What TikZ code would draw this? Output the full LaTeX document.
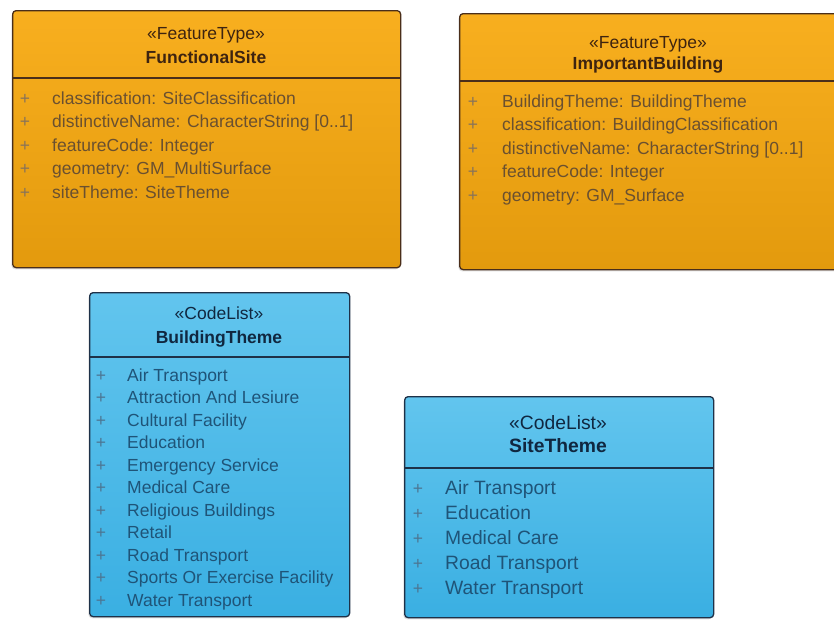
\documentclass[tikz,border=0pt]{standalone}
\usepackage{fontspec}
\setmainfont{Liberation Sans}
\usetikzlibrary{shadows}

\definecolor{ftop}{HTML}{F8AF1F}
\definecolor{fbot}{HTML}{E39A0D}
\definecolor{fline}{HTML}{4A2E1A}
\definecolor{ftext}{HTML}{6A5030}
\definecolor{fhead}{HTML}{3E2410}
\definecolor{ctop}{HTML}{62C5EE}
\definecolor{cbot}{HTML}{3AAFE2}
\definecolor{cline}{HTML}{1E3148}
\definecolor{ctext}{HTML}{1F5478}
\definecolor{chead}{HTML}{102740}

\begin{document}
\begin{tikzpicture}[x=1pt, y=-1pt,
    box/.style={rounded corners=3.5pt, line width=1.3pt, inner sep=0pt, anchor=north west,
        drop shadow={shadow xshift=-1.2pt, shadow yshift=-1.6pt, opacity=0.25}},
    feature/.style={box, draw=fline, top color=ftop, bottom color=fbot},
    codelist/.style={box, draw=cline, top color=ctop, bottom color=cbot},
    head/.style={anchor=base, inner sep=0pt},
    item/.style={anchor=base west, inner sep=0pt},
    plus/.style={anchor=base, inner sep=0pt}]
        % Define Variables
        \def\fs{\fontsize{17.5}{20}\selectfont}
        \def\big{\fontsize{19.3}{22}\selectfont}
        \useasboundingbox (0,0) rectangle (834,619);

        % FunctionalSite
        \node[feature, minimum width=388pt, minimum height=257pt] (fsite) at (12,10) {};
        \coordinate (fsite-sep) at (12,78);
        \draw[fline, line width=1.3pt] (fsite-sep) -- (fsite-sep -| fsite.east);
        \node[head, text=fhead, font=\fs] (fsite-st) at (206,39) {«FeatureType»};
        \node[head, text=fhead, font=\fs\bfseries] (fsite-nm) at (206,63) {FunctionalSite};
        \foreach \txt [count=\i from 0] in {{classification: SiteClassification},
            {distinctiveName: CharacterString [0..1]}, {featureCode: Integer},
            {geometry: GM\_MultiSurface}, {siteTheme: SiteTheme}} {
            \node[plus, text=ftext!80, font=\fs] (fsite-p\i) at (25,104+23.5*\i) {+};
            \node[item, text=ftext, font=\fs] (fsite-a\i) at (52,104+23.5*\i) {\txt};
        }

        % ImportantBuilding
        \node[feature, minimum width=380pt, minimum height=256pt] (ibuild) at (459,13) {};
        \coordinate (ibuild-sep) at (459,81);
        \draw[fline, line width=1.3pt] (ibuild-sep) -- (ibuild-sep -| ibuild.east);
        \node[head, text=fhead, font=\fs] (ibuild-st) at (648,48) {«FeatureType»};
        \node[head, text=fhead, font=\fs\bfseries] (ibuild-nm) at (648,69) {ImportantBuilding};
        \foreach \txt [count=\i from 0] in {{BuildingTheme: BuildingTheme},
            {classification: BuildingClassification}, {distinctiveName: CharacterString [0..1]},
            {featureCode: Integer}, {geometry: GM\_Surface}} {
            \node[plus, text=ftext!80, font=\fs] (ibuild-p\i) at (473,107+23.5*\i) {+};
            \node[item, text=ftext, font=\fs] (ibuild-a\i) at (502,107+23.5*\i) {\txt};
        }

        % BuildingTheme
        \node[codelist, minimum width=260pt, minimum height=324pt] (btheme) at (89,292) {};
        \coordinate (btheme-sep) at (89,357);
        \draw[cline, line width=1.3pt] (btheme-sep) -- (btheme-sep -| btheme.east);
        \node[head, text=chead, font=\fs] (btheme-st) at (219,319) {«CodeList»};
        \node[head, text=chead, font=\fs\bfseries] (btheme-nm) at (219,343) {BuildingTheme};
        \foreach \txt [count=\i from 0] in {Air Transport, Attraction And Lesiure,
            Cultural Facility, Education, Emergency Service, Medical Care,
            Religious Buildings, Retail, Road Transport, Sports Or Exercise Facility,
            Water Transport} {
            \node[plus, text=ctext!80, font=\fs] (btheme-p\i) at (101,381+22.5*\i) {+};
            \node[item, text=ctext, font=\fs] (btheme-a\i) at (127,381+22.5*\i) {\txt};
        }

        % SiteTheme
        \node[codelist, minimum width=309pt, minimum height=221pt] (stheme) at (404,396) {};
        \coordinate (stheme-sep) at (404,468);
        \draw[cline, line width=1.3pt] (stheme-sep) -- (stheme-sep -| stheme.east);
        \node[head, text=chead, font=\big] (stheme-st) at (558,429) {«CodeList»};
        \node[head, text=chead, font=\big\bfseries] (stheme-nm) at (558,452) {SiteTheme};
        \foreach \txt [count=\i from 0] in {Air Transport, Education, Medical Care,
            Road Transport, Water Transport} {
            \node[plus, text=ctext!80, font=\fs] (stheme-p\i) at (418,494+25.2*\i) {+};
            \node[item, text=ctext, font=\big] (stheme-a\i) at (445,494+25.2*\i) {\txt};
        }

    \end{tikzpicture}
\end{document}
